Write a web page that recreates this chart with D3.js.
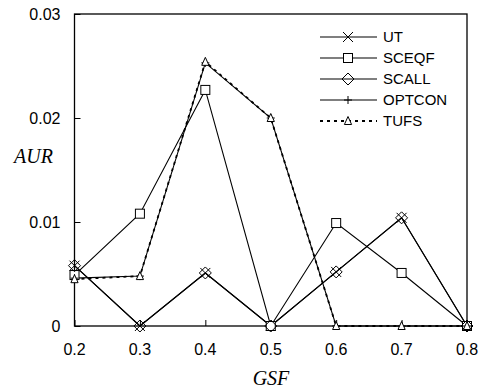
<!DOCTYPE html>
<html><head><meta charset="utf-8">
<script src="https://cdn.jsdelivr.net/npm/d3@7"></script>
<style>body{margin:0;background:#fff}svg{display:block}</style>
</head><body><svg id="c" width="482" height="391"></svg>
<script>
const gsf = [0.2, 0.3, 0.4, 0.5, 0.6, 0.7, 0.8];
const ut = [0.0058, 0, 0.0051, 0, 0.0052, 0.0104, 0];
const sceqf = [0.0049, 0.0108, 0.0227, 0, 0.0099, 0.0051, 0];
const scall = [0.0058, 0, 0.0051, 0, 0.0052, 0.0104, 0];
const optcon = [0.0046, 0.0048, 0.0253, 0.0200, 0, 0, 0];
const tufs = [0.0045, 0.0048, 0.0254, 0.0200, 0, 0, 0];
const xTicks = [0.2, 0.3, 0.4, 0.5, 0.6, 0.7, 0.8];
const yTicks = [0, 0.01, 0.02, 0.03];
const seriesNames = ["UT", "SCEQF", "SCALL", "OPTCON", "TUFS"];

const svg = d3.select("#c");
const L = 74.5, R = 467, T = 14, B = 326;
const x = d3.scaleLinear().domain([0.2, 0.8]).range([L, R]);
const y = d3.scaleLinear().domain([0, 0.03]).range([B, T]);

svg.append("rect").attr("x", L).attr("y", T).attr("width", R - L).attr("height", B - T)
  .attr("fill", "none").attr("stroke", "#000").attr("stroke-width", 1.3);

const fmtY = d => d === 0 ? "0" : d3.format(".2f")(d);
const yAxis = svg.append("g").attr("transform", `translate(${L},0)`)
  .call(d3.axisRight(y).tickValues(yTicks).tickSize(6).tickFormat(""));
yAxis.select(".domain").remove();
yTicks.forEach(t => {
  svg.append("text").attr("x", L - 14).attr("y", y(t)).attr("dy", "0.36em")
    .attr("text-anchor", "end").attr("font-family", "Liberation Sans, Arial, sans-serif")
    .attr("font-size", 16).text(fmtY(t));
});
const xAxis = svg.append("g").attr("transform", `translate(0,${B})`)
  .call(d3.axisTop(x).tickValues(xTicks).tickSize(6).tickFormat(""));
xAxis.select(".domain").remove();
xTicks.forEach(t => {
  svg.append("text").attr("x", x(t)).attr("y", B + 29)
    .attr("text-anchor", "middle").attr("font-family", "Liberation Sans, Arial, sans-serif")
    .attr("font-size", 16).text(d3.format(".1f")(t));
});
svg.selectAll(".tick line").attr("stroke", "#000");

svg.append("text").attr("x", 14).attr("y", 163).attr("font-family", "Liberation Serif, Times New Roman, serif")
  .attr("font-style", "italic").attr("font-size", 20).text("AUR");
svg.append("text").attr("x", 271).attr("y", 385).attr("text-anchor", "middle").attr("font-family", "Liberation Serif, Times New Roman, serif")
  .attr("font-style", "italic").attr("font-size", 20).text("GSF");

const line = d3.line().x(d => x(d[0])).y(d => y(d[1]));
function drawMarker(g, type, cx, cy) {
  const s = g.append("g").attr("transform", `translate(${cx},${cy})`)
    .attr("fill", "none").attr("stroke", "#000").attr("stroke-width", 1);
  if (type === "x") {
    s.append("path").attr("d", "M-5,-5L5,5M-5,5L5,-5");
  } else if (type === "square") {
    s.append("rect").attr("x", -4.5).attr("y", -4.5).attr("width", 9).attr("height", 9).attr("fill", "#fff");
  } else if (type === "diamond") {
    s.append("path").attr("d", "M0,-6L6,0L0,6L-6,0Z");
  } else if (type === "plus") {
    s.append("path").attr("d", "M0,-4L0,4M-4,0L4,0");
  } else if (type === "tri") {
    s.append("path").attr("d", "M0,-4.5L3.6,3.5L-3.6,3.5Z").attr("fill", "#fff");
  }
}
const series = [
  {name: "UT", vals: ut, m: "x", dash: null},
  {name: "SCEQF", vals: sceqf, m: "square", dash: null},
  {name: "SCALL", vals: scall, m: "diamond", dash: null},
  {name: "OPTCON", vals: optcon, m: "plus", dash: null},
  {name: "TUFS", vals: tufs, m: "tri", dash: "3,4"}
];
series.forEach(s => {
  const pts = gsf.map((g, i) => [g, s.vals[i]]);
  svg.append("path").datum(pts).attr("d", line).attr("fill", "none").attr("stroke", "#000")
    .attr("stroke-width", s.dash ? 1.8 : 1.1).attr("stroke-dasharray", s.dash);
});
series.forEach(s => {
  gsf.forEach((g, i) => drawMarker(svg, s.m, x(g), y(s.vals[i])));
});

const lg = svg.append("g");
series.forEach((s, i) => {
  const ly = 37 + i * 21;
  lg.append("line").attr("x1", 320).attr("x2", 377).attr("y1", ly).attr("y2", ly)
    .attr("stroke", "#000").attr("stroke-width", s.dash ? 1.8 : 1.1).attr("stroke-dasharray", s.dash);
  drawMarker(lg, s.m, 348, ly);
  lg.append("text").attr("x", 383).attr("y", ly).attr("dy", "0.36em")
    .attr("font-family", "Liberation Sans, Arial, sans-serif").attr("font-size", 15).text(s.name);
});
</script></body></html>
